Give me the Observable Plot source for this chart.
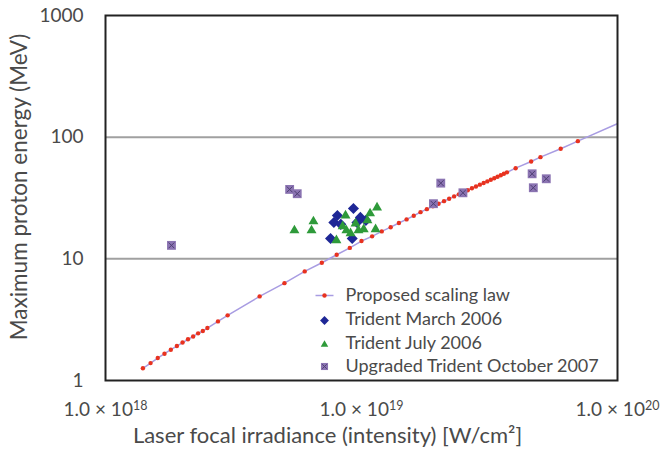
<!DOCTYPE html>
<html><head><meta charset="utf-8">
<script src="https://cdn.jsdelivr.net/npm/d3@7"></script>
<script src="https://cdn.jsdelivr.net/npm/@observablehq/plot@0.6"></script>
<style>body{margin:0;background:#fff;font-family:Lato,sans-serif}</style>
</head><body><div id="chart"></div>
<script>
// Proposed scaling law (red dots on lavender line)
const lawI = [1.4e18,1.5e18,1.6e18,1.7e18,1.8e18,1.9e18,2.0e18,2.1e18,2.2e18,2.3e18,2.4e18,2.5e18,2.75e18,3.0e18,
  4e18,5e18,6e18,7e18,8e18,9e18,1.0e19,1.1e19,1.2e19,1.3e19,1.4e19,1.5e19,1.6e19,1.7e19,1.8e19,1.9e19,2.0e19,
  2.1e19,2.2e19,2.3e19,2.4e19,2.5e19,2.6e19,2.7e19,2.8e19,2.9e19,3.0e19,3.1e19,3.2e19,3.3e19,3.4e19,3.5e19,3.6e19,3.7e19,
  4.0e19,4.6e19,5.0e19,6.0e19,7.0e19];
const lawE = [1.26,1.39,1.53,1.66,1.79,1.92,2.05,2.18,2.30,2.44,2.55,2.70,3.06,3.43,
  4.91,6.31,7.88,9.29,10.8,12.3,14.0,15.3,16.8,18.2,19.7,21.1,22.6,24.2,25.6,27.0,28.4,
  29.8,31.2,32.6,33.9,35.3,36.6,38.0,39.3,40.7,42.0,43.3,44.7,46.0,47.3,48.7,50.0,51.4,
  55.6,63.1,68.5,80.3,92.7];
// the lavender line continues past the last dot to the right edge
const lineEndI = [1.0e20];
const lineEndE = [129];

// Trident March 2006 (blue diamonds)
const marchI = [9.3e18,8.05e18,7.8e18,8.3e18,7.57e18,9.2e18,9.9e18,9.6e18,1.04e19];
const marchE = [25.9,22.7,19.9,19.2,14.7,14.7,21.9,19.9,20.7];

// Trident July 2006 (green triangles)
const julyI = [5.47e18,6.38e18,6.49e18,8.66e18,7.98e18,9.06e18,9.48e18,1.02e19,1.055e19,1.08e19,1.15e19,1.135e19,8.44e18,9.73e18,8.73e18];
const julyE = [17.1,17.1,20.3,22.7,14.2,16.2,19.5,17.5,20.7,23.6,26.4,17.5,18.5,17.1,17.1];

// Upgraded Trident October 2007 (purple squares)
const octI = [1.81e18,5.24e18,5.61e18,2.04e19,1.91e19,2.49e19,4.64e19,4.69e19,5.27e19];
const octE = [12.9,37.2,34.3,41.9,28.4,34.9,50.0,38.4,45.5];

const xTicks = [1e18,1e19,1e20];
const yTicks = [1,10,100,1000];
const gridE = [10,100];
const legendLabels = ["Proposed scaling law","Trident March 2006","Trident July 2006","Upgraded Trident October 2007"];
const xTitle = "Laser focal irradiance (intensity) [W/cm²]";
const yTitle = "Maximum proton energy (MeV)";

const zip = (a,b) => a.map((d,i)=>({I:d,E:b[i]}));
const law = zip(lawI, lawE);
const lineData = zip(lawI.concat(lineEndI), lawE.concat(lineEndE));
const march = zip(marchI, marchE);
const july = zip(julyI, julyE);
const oct = zip(octI, octE);

const RED = "#e8321f", LAV = "#a89ce2", BLUE = "#1e2796", GREEN = "#2e9a3a", PURP = "#8b74b2", PURPD = "#4e3f72", TXT = "#4a4a4a";
const hline = {draw(ctx){ctx.moveTo(-9,0);ctx.lineTo(9,0);}};

const lx = 219, lt = 240; // legend offsets from frame left
const ly = [280, 304, 328, 351];

const legendTextMarks = legendLabels.map((s, i) =>
  Plot.text([s], {text: d => d, frameAnchor: "top-left", dx: lt, dy: ly[i], textAnchor: "start", lineAnchor: "middle", fontSize: 18, fill: TXT}));

const chart = Plot.plot({
  width: 665, height: 457,
  marginLeft: 105, marginRight: 48, marginTop: 15, marginBottom: 77,
  style: {fontFamily: "Lato, sans-serif", color: TXT, background: "#fff", overflow: "visible"},
  x: {type: "log", domain: [1e18, 1e20]},
  y: {type: "log", domain: [1, 1000]},
  marks: [
    Plot.ruleY(gridE, {stroke: "#a0a0a0", strokeWidth: 2}),
    Plot.line(lineData, {x: "I", y: "E", stroke: LAV, strokeWidth: 1.5, clip: true}),
    Plot.dot(law, {x: "I", y: "E", r: 2.2, fill: RED}),
    Plot.dot(oct, {x: "I", y: "E", symbol: "square", r: 5, fill: PURP}),
    Plot.dot(oct, {x: "I", y: "E", symbol: "times", r: 2.7, stroke: PURPD, strokeWidth: 1}),
    Plot.dot(march, {x: "I", y: "E", symbol: "diamond2", r: 5, fill: BLUE, stroke: "none"}),
    Plot.dot(july, {x: "I", y: "E", symbol: "triangle", r: 3.7, fill: GREEN}),
    Plot.frame({stroke: "#222", strokeWidth: 2}),
    Plot.axisY({ticks: yTicks, tickFormat: d => String(d), tickSize: 0, tickPadding: 22, fontSize: 19, label: null}),
    Plot.axisX({ticks: xTicks, tickFormat: d => "1.0 × 10^" + Math.round(Math.log10(d)), tickSize: 0, tickPadding: 22, fontSize: 19, label: null}),
    // legend
    Plot.dot([0], {frameAnchor: "top-left", dx: lx, dy: ly[0], symbol: hline, r: 3, stroke: LAV, strokeWidth: 1.5, fill: "none"}),
    Plot.dot([0], {frameAnchor: "top-left", dx: lx, dy: ly[0], r: 2.2, fill: RED}),
    Plot.dot([0], {frameAnchor: "top-left", dx: lx, dy: ly[1] + 1, symbol: "diamond2", r: 4, fill: BLUE, stroke: "none"}),
    Plot.dot([0], {frameAnchor: "top-left", dx: lx, dy: ly[2] + 1, symbol: "triangle", r: 2.8, fill: GREEN}),
    Plot.dot([0], {frameAnchor: "top-left", dx: lx, dy: ly[3], symbol: "square", r: 4, fill: PURP}),
    Plot.dot([0], {frameAnchor: "top-left", dx: lx, dy: ly[3], symbol: "times", r: 2.2, stroke: PURPD, strokeWidth: 1}),
    ...legendTextMarks,
    // x axis title
    Plot.text([xTitle], {text: d => d, frameAnchor: "bottom", dx: -34, dy: 62, fontSize: 22, fill: TXT})
  ]
});
document.getElementById("chart").appendChild(chart);

// rotated y axis title, left of the tick labels
const svgNS = "http://www.w3.org/2000/svg";
const yt = document.createElementNS(svgNS, "text");
yt.textContent = yTitle;
yt.setAttribute("transform", "translate(18,187) rotate(-90)");
yt.setAttribute("text-anchor", "middle");
yt.setAttribute("dominant-baseline", "central");
yt.setAttribute("font-size", "22.5");
yt.setAttribute("fill", TXT);
chart.appendChild(yt);

// superscript exponents in x tick labels
chart.querySelectorAll('g[aria-label="x-axis tick label"] text').forEach(t => {
  const [base, exp] = t.textContent.split("^");
  t.textContent = "";
  const a = document.createElementNS(svgNS, "tspan");
  a.textContent = base;
  const b = document.createElementNS(svgNS, "tspan");
  b.textContent = exp;
  b.setAttribute("dy", "-0.5em");
  b.setAttribute("font-size", "12.5");
  t.appendChild(a); t.appendChild(b);
});
</script></body></html>
